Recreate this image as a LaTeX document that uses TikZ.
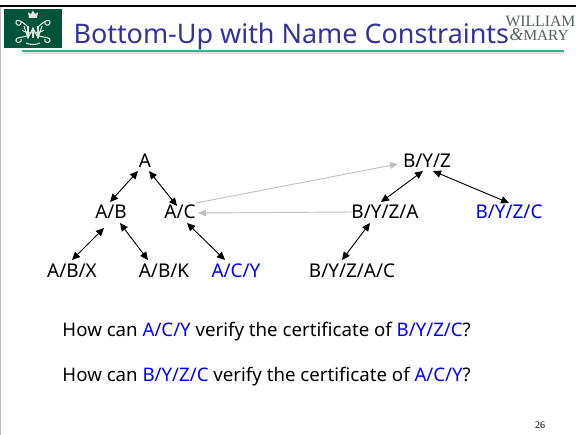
\documentclass[tikz,border=0pt]{standalone}
\usepackage{fontspec}
\setmainfont{Noto Sans}
\newfontfamily\crestfont{Liberation Serif}
\usetikzlibrary{arrows.meta}
\definecolor{titleblue}{RGB}{51,51,153}
\definecolor{crestgreen}{RGB}{0,84,58}
\definecolor{rulegreen}{RGB}{60,176,140}
\definecolor{wmgray}{RGB}{84,98,88}
\tikzset{every picture/.style={line width=0.75pt}}
\tikzset{
  dn/.style={font=\fontsize{14.2}{16}\selectfont,inner sep=0pt,text height=10pt,text depth=1pt},
  bluedn/.style={dn,text=blue},
  twoway/.style={{Triangle[length=6pt,width=5.5pt]}-{Triangle[length=6pt,width=5.5pt]},line width=0.7pt},
  grayway/.style={-{Triangle[length=6pt,width=5pt]},color={rgb,255:red,192;green,192;blue,192},line width=0.7pt},
  question/.style={font=\fontsize{14}{16}\selectfont,inner sep=0pt,anchor=west}
}
\begin{document}
\begin{tikzpicture}[x=0.75pt,y=0.75pt,yscale=-1,xscale=1]
	\useasboundingbox (0,0) rectangle (576,435);

	%Frame
	\fill [black] (0,5) rectangle (576,7.5);
	\fill [color={rgb,255:red,190;green,190;blue,190}] (0,7.5) rectangle (1.5,435);
	%Title rule
	\fill [color={rgb,255:red,225;green,225;blue,225}] (23,52) rectangle (565,54);
	\fill [rulegreen] (22,50) rectangle (564,52.5);
	%Crest
	\fill [crestgreen] (4,9) rectangle (62,48.5);
	\begin{scope}[draw={rgb,255:red,225;green,235;blue,225},line width=0.8pt]
		\fill [color={rgb,255:red,225;green,235;blue,225}] (29,18) -- (28,12.5) -- (31,14) -- (33,10.5) -- (35,14) -- (38,12.5) -- (37,18) -- cycle;
		\draw (24,26) -- (28,38) -- (33,28) -- (38,38) -- (42,26);
		\draw (28,26) -- (28,38) (38,26) -- (38,38) (33,28) -- (33,38);
		\draw (28,27) .. controls (20,19) and (15,19) .. (16,23) .. controls (17,27) and (22,25) .. (21,22);
		\draw (38,27) .. controls (46,19) and (51,19) .. (50,23) .. controls (49,27) and (44,25) .. (45,22);
		\draw (27,36) .. controls (20,38) and (15,37) .. (16,41) .. controls (17,44) and (23,42) .. (21,39);
		\draw (39,36) .. controls (46,38) and (51,37) .. (50,41) .. controls (49,44) and (43,42) .. (45,39);
		\draw (22,30) .. controls (27,34) and (39,34) .. (44,30);
		\draw (26,43) .. controls (30,45) and (36,45) .. (40,43);
	\end{scope}

	% Text Node
	\node (title) [anchor=base west,inner sep=0pt,text=titleblue,font=\fontsize{20.2}{26}\selectfont] at (73,44) {Bottom-Up with Name Constraints};
	% Text Node
	\node (william) [anchor=base west,inner sep=0pt,text=wmgray,font=\crestfont\fontsize{11.8}{14}\selectfont] at (505,27) {WILLIAM};
	% Text Node
	\node (mary) [anchor=base west,inner sep=0pt,text=wmgray,font=\crestfont\fontsize{11.5}{14}\selectfont] at (509,41) {{\fontsize{13.5}{14}\selectfont\textit{\&}}MARY};

	% Left tree
	\node (a) [dn] at (145,162) {A};
	\node (ab) [dn] at (111,213) {A/B};
	\node (ac) [dn] at (180,213) {A/C};
	\node (abx) [dn] at (72,271) {A/B/X};
	\node (abk) [dn] at (164,271) {A/B/K};
	\node (acy) [bluedn] at (236,271) {A/C/Y};

	% Right tree
	\node (byz) [dn] at (427,162) {B/Y/Z};
	\node (byza) [dn] at (385,213) {B/Y/Z/A};
	\node (byzc) [bluedn] at (509,213) {B/Y/Z/C};
	\node (byzac) [dn] at (352,271) {B/Y/Z/A/C};

	\draw [twoway] ([shift={(-7,9)}]a.center) -- ([shift={(-1,-11)}]ab.center);
	\draw [twoway] ([shift={(4,9)}]a.center) -- ([shift={(-3,-7)}]ac.center);
	\draw [twoway] ([shift={(-7,15)}]ab.center) -- ([shift={(0,-11)}]abx.center);
	\draw [twoway] ([shift={(9,10)}]ab.center) -- ([shift={(-16,-11)}]abk.center);
	\draw [twoway] ([shift={(7,10)}]ac.center) -- ([shift={(-11,-11)}]acy.center);
	\draw [twoway] ([shift={(-4,9)}]byz.center) -- ([shift={(-4,-11)}]byza.center);
	\draw [twoway] ([shift={(6,9)}]byz.center) -- ([shift={(0,-10)}]byzc.center);
	\draw [twoway] ([shift={(-15,10)}]byza.center) -- ([shift={(-10,-11)}]byzac.center);

	\draw [grayway] ([shift={(16,-10)}]ac.center) -- ([shift={(-29,2)}]byz.center);
	\draw [grayway] ([shift={(-33,-1)}]byza.center) -- ([shift={(18,0)}]ac.center);

	% Text Node
	\node (askfirst) [question] at (62,332) {How can \textcolor{blue}{A/C/Y} verify the certificate of \textcolor{blue}{B/Y/Z/C}?};
	% Text Node
	\node (asksecond) [question] at (62,377) {How can \textcolor{blue}{B/Y/Z/C} verify the certificate of \textcolor{blue}{A/C/Y}?};
	% Text Node
	\node (page) [inner sep=0pt,font=\crestfont\fontsize{7.5}{9}\selectfont] at (540,425) {26};
\end{tikzpicture}
\end{document}
